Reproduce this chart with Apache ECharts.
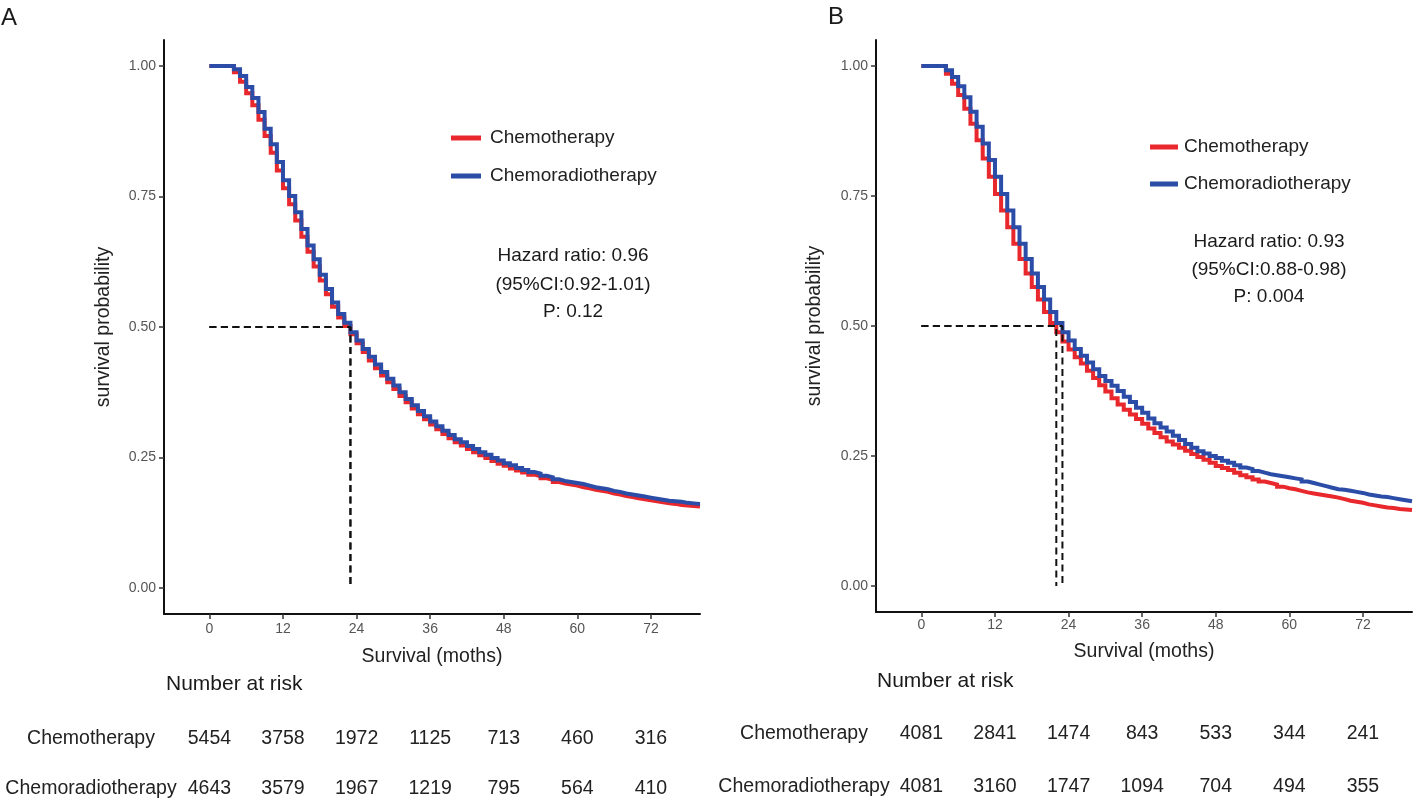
<!DOCTYPE html>
<html><head><meta charset="utf-8">
<script src="https://cdn.jsdelivr.net/npm/echarts@6/dist/echarts.min.js"></script>
<style>html,body{margin:0;padding:0;background:#fff}#c{width:1418px;height:801px}</style>
</head><body><div id="c"></div>
<script>
// ---- data ----
const months = [0,1,2,3,4,5,6,7,8,9,10,11,12,13,14,15,16,17,18,19,20,21,22,23,24,25,26,27,28,29,30,31,32,33,34,35,36,37,38,39,40,41,42,43,44,45,46,47,48,49,50,51,52,53,54,55,56,57,58,59,60,61,62,63,64,65,66,67,68,69,70,71,72,73,74,75,76,77,78,79,80];
const groups = ['Chemotherapy', 'Chemoradiotherapy'];

// Panel A
const survA_chemo = [1,1,1,1,0.988,0.970,0.948,0.925,0.897,0.866,0.834,0.800,0.766,0.735,0.704,0.673,0.644,0.616,0.589,0.563,0.539,0.518,0.502,0.486,0.469,0.452,0.436,0.421,0.407,0.394,0.381,0.368,0.356,0.344,0.333,0.323,0.313,0.304,0.295,0.287,0.279,0.273,0.266,0.260,0.254,0.249,0.243,0.238,0.234,0.229,0.225,0.221,0.217,0.214,0.210,0.207,0.203,0.200,0.198,0.196,0.193,0.191,0.188,0.186,0.184,0.181,0.179,0.176,0.174,0.172,0.170,0.168,0.166,0.164,0.162,0.161,0.159,0.158,0.157,0.156,0.155];
const survA_chemorad = [1,1,1,1,0.994,0.981,0.960,0.939,0.912,0.880,0.850,0.816,0.781,0.751,0.720,0.688,0.656,0.630,0.600,0.573,0.547,0.525,0.508,0.490,0.474,0.458,0.443,0.428,0.414,0.401,0.388,0.375,0.362,0.350,0.339,0.329,0.319,0.310,0.301,0.293,0.285,0.279,0.272,0.266,0.260,0.255,0.249,0.244,0.239,0.235,0.230,0.226,0.222,0.219,0.215,0.212,0.208,0.205,0.203,0.201,0.199,0.196,0.193,0.191,0.189,0.186,0.184,0.181,0.179,0.177,0.175,0.173,0.171,0.169,0.167,0.166,0.165,0.163,0.162,0.161,0.160];

// Panel B
const survB_chemo = [1,1,1,1,0.985,0.966,0.944,0.918,0.889,0.857,0.822,0.787,0.754,0.722,0.690,0.658,0.629,0.601,0.575,0.551,0.527,0.506,0.488,0.470,0.455,0.440,0.428,0.414,0.400,0.386,0.374,0.361,0.349,0.339,0.330,0.321,0.312,0.303,0.294,0.286,0.278,0.272,0.266,0.260,0.254,0.248,0.243,0.237,0.231,0.227,0.223,0.218,0.213,0.209,0.205,0.201,0.198,0.195,0.191,0.188,0.186,0.183,0.180,0.178,0.176,0.174,0.172,0.170,0.167,0.164,0.162,0.160,0.157,0.155,0.153,0.151,0.150,0.148,0.147,0.146,0.145];
const survB_chemorad = [1,1,1,1,0.992,0.979,0.961,0.940,0.912,0.883,0.851,0.819,0.787,0.754,0.722,0.690,0.658,0.629,0.601,0.575,0.551,0.527,0.506,0.488,0.472,0.456,0.443,0.430,0.417,0.404,0.394,0.385,0.375,0.364,0.354,0.343,0.333,0.322,0.313,0.305,0.297,0.289,0.281,0.273,0.266,0.259,0.255,0.250,0.246,0.241,0.237,0.232,0.228,0.225,0.221,0.218,0.215,0.213,0.211,0.209,0.207,0.205,0.201,0.198,0.195,0.192,0.189,0.186,0.185,0.183,0.181,0.179,0.176,0.174,0.172,0.171,0.169,0.167,0.165,0.163,0.162];

const medianA = [23, 23];
const medianB = [22, 23];

const riskTimes = [0, 12, 24, 36, 48, 60, 72];
const riskA_chemo = [5454, 3758, 1972, 1125, 713, 460, 316];
const riskA_chemorad = [4643, 3579, 1967, 1219, 795, 564, 410];
const riskB_chemo = [4081, 2841, 1474, 843, 533, 344, 241];
const riskB_chemorad = [4081, 3160, 1747, 1094, 704, 494, 355];

const xTicks = [0, 12, 24, 36, 48, 60, 72];
const yTicks = [0, 0.25, 0.5, 0.75, 1];
const hrA = ['Hazard ratio: 0.96', '(95%CI:0.92-1.01)', 'P: 0.12'];
const hrB = ['Hazard ratio: 0.93', '(95%CI:0.88-0.98)', 'P: 0.004'];

// ---- chart ----
const FONT = 'Liberation Sans, Arial, Helvetica, sans-serif';
const RED = '#E8282C';
const BLUE = '#2B4DA7';

function xAxisPlot(gi, gap, margin) {
  return {
    gridIndex: gi, type: 'value', min: -7.4, max: 80,
    name: 'Survival (moths)', nameLocation: 'middle', nameGap: gap,
    nameTextStyle: { fontSize: 19.5, color: '#222', fontFamily: FONT },
    axisLine: { onZero: false, lineStyle: { color: '#111', width: 2 } },
    axisTick: { show: true, length: 5, customValues: xTicks, lineStyle: { color: '#333', width: 1.5 } },
    axisLabel: { customValues: xTicks, fontSize: 14, color: '#555', margin: margin, fontFamily: FONT },
    splitLine: { show: false }
  };
}
function yAxisPlot(gi, gap) {
  return {
    gridIndex: gi, type: 'value', min: -0.05, max: 1.05,
    name: 'survival probability', nameLocation: 'middle', nameGap: gap, nameRotate: 90,
    nameTextStyle: { fontSize: 19.5, color: '#222', fontFamily: FONT },
    axisLine: { show: true, onZero: false, lineStyle: { color: '#111', width: 2 } },
    axisTick: { show: true, length: 5, customValues: yTicks, lineStyle: { color: '#333', width: 1.5 } },
    axisLabel: { customValues: yTicks, fontSize: 14, color: '#555', margin: 8, fontFamily: FONT,
      formatter: v => Number(v).toFixed(2) },
    splitLine: { show: false }
  };
}
function xAxisTable(gi) {
  return { gridIndex: gi, type: 'value', min: -7.4, max: 80, show: false };
}
function yAxisTable(gi, margin) {
  return {
    gridIndex: gi, type: 'category', data: groups, inverse: true, boundaryGap: false,
    axisLine: { show: false }, axisTick: { show: false }, splitLine: { show: false },
    axisLabel: { fontSize: 19.5, color: '#222', align: 'center', margin: margin, fontFamily: FONT }
  };
}
function kmSeries(name, xi, vals, color) {
  return {
    type: 'line', name: name, xAxisIndex: xi, yAxisIndex: xi, step: 'end',
    data: months.map((m, i) => [m, vals[i]]),
    symbol: 'none', showSymbol: false, silent: true,
    itemStyle: { color: color },
    lineStyle: { color: color, width: 4, cap: 'butt', join: 'miter' },
    z: 3
  };
}
function dashSeries(xi, med) {
  return {
    type: 'line', xAxisIndex: xi, yAxisIndex: xi, symbol: 'none', silent: true,
    data: [[0, 0.5], [med, 0.5], [med, 0]],
    lineStyle: { color: '#111', width: 2, type: [7, 4.5] },
    z: 4
  };
}
function riskSeries(xi, group, vals) {
  return {
    type: 'scatter', xAxisIndex: xi, yAxisIndex: xi, symbolSize: 1, silent: true,
    itemStyle: { color: 'rgba(0,0,0,0)', opacity: 1 },
    data: riskTimes.map((t, i) => [t, group, vals[i]]),
    label: { show: true, position: 'inside', formatter: p => String(p.value[2]),
      fontSize: 19.5, color: '#222', opacity: 1, fontFamily: FONT }
  };
}
function txt(x, y, s, size, align) {
  return { type: 'text', x: x, y: y, silent: true,
    style: { text: s, fill: '#1a1a1a', fontSize: size, fontFamily: FONT, align: align || 'center', verticalAlign: 'middle' } };
}

const chart = echarts.init(document.getElementById('c'));
const option = {
  animation: false,
  backgroundColor: '#fff',
  textStyle: { fontFamily: FONT },
  grid: [
    { left: 164, top: 40, width: 536, height: 574 },
    { left: 876, top: 40, width: 536, height: 572 },
    { left: 164, top: 739, width: 536, height: 50 },
    { left: 876, top: 734, width: 536, height: 53 }
  ],
  xAxis: [xAxisPlot(0, 33, 8), xAxisPlot(1, 30, 6), xAxisTable(2), xAxisTable(3)],
  yAxis: [yAxisPlot(0, 50), yAxisPlot(1, 51), yAxisTable(2, 73), yAxisTable(3, 72)],
  legend: [
    { left: 446, top: 123, orient: 'vertical', icon: 'rect', itemWidth: 30, itemHeight: 5, itemGap: 18,
      selectedMode: false, data: groups,
      textStyle: { fontSize: 19, color: '#222', lineHeight: 20, padding: [0, 0, 0, 4], fontFamily: FONT } },
    { left: 1145, top: 132, orient: 'vertical', icon: 'rect', itemWidth: 28, itemHeight: 5, itemGap: 17,
      selectedMode: false, data: groups,
      textStyle: { fontSize: 19, color: '#222', lineHeight: 20, padding: [0, 0, 0, 1], fontFamily: FONT } }
  ],
  series: [
    kmSeries(groups[0], 0, survA_chemo, RED),
    kmSeries(groups[1], 0, survA_chemorad, BLUE),
    kmSeries(groups[0], 1, survB_chemo, RED),
    kmSeries(groups[1], 1, survB_chemorad, BLUE),
    dashSeries(0, medianA[0]), dashSeries(0, medianA[1]),
    dashSeries(1, medianB[0]), dashSeries(1, medianB[1]),
    riskSeries(2, groups[0], riskA_chemo), riskSeries(2, groups[1], riskA_chemorad),
    riskSeries(3, groups[0], riskB_chemo), riskSeries(3, groups[1], riskB_chemorad)
  ],
  graphic: [
    txt(1, 18, 'A', 24, 'left'),
    txt(828, 17, 'B', 24, 'left'),
    txt(166, 684, 'Number at risk', 21, 'left'),
    txt(877, 681, 'Number at risk', 21, 'left'),
    txt(573, 256, hrA[0], 19), txt(573, 285, hrA[1], 19), txt(573, 312, hrA[2], 19),
    txt(1269, 242, hrB[0], 19), txt(1269, 270, hrB[1], 19), txt(1269, 297, hrB[2], 19)
  ]
};
chart.setOption(option);
</script>
</body></html>
